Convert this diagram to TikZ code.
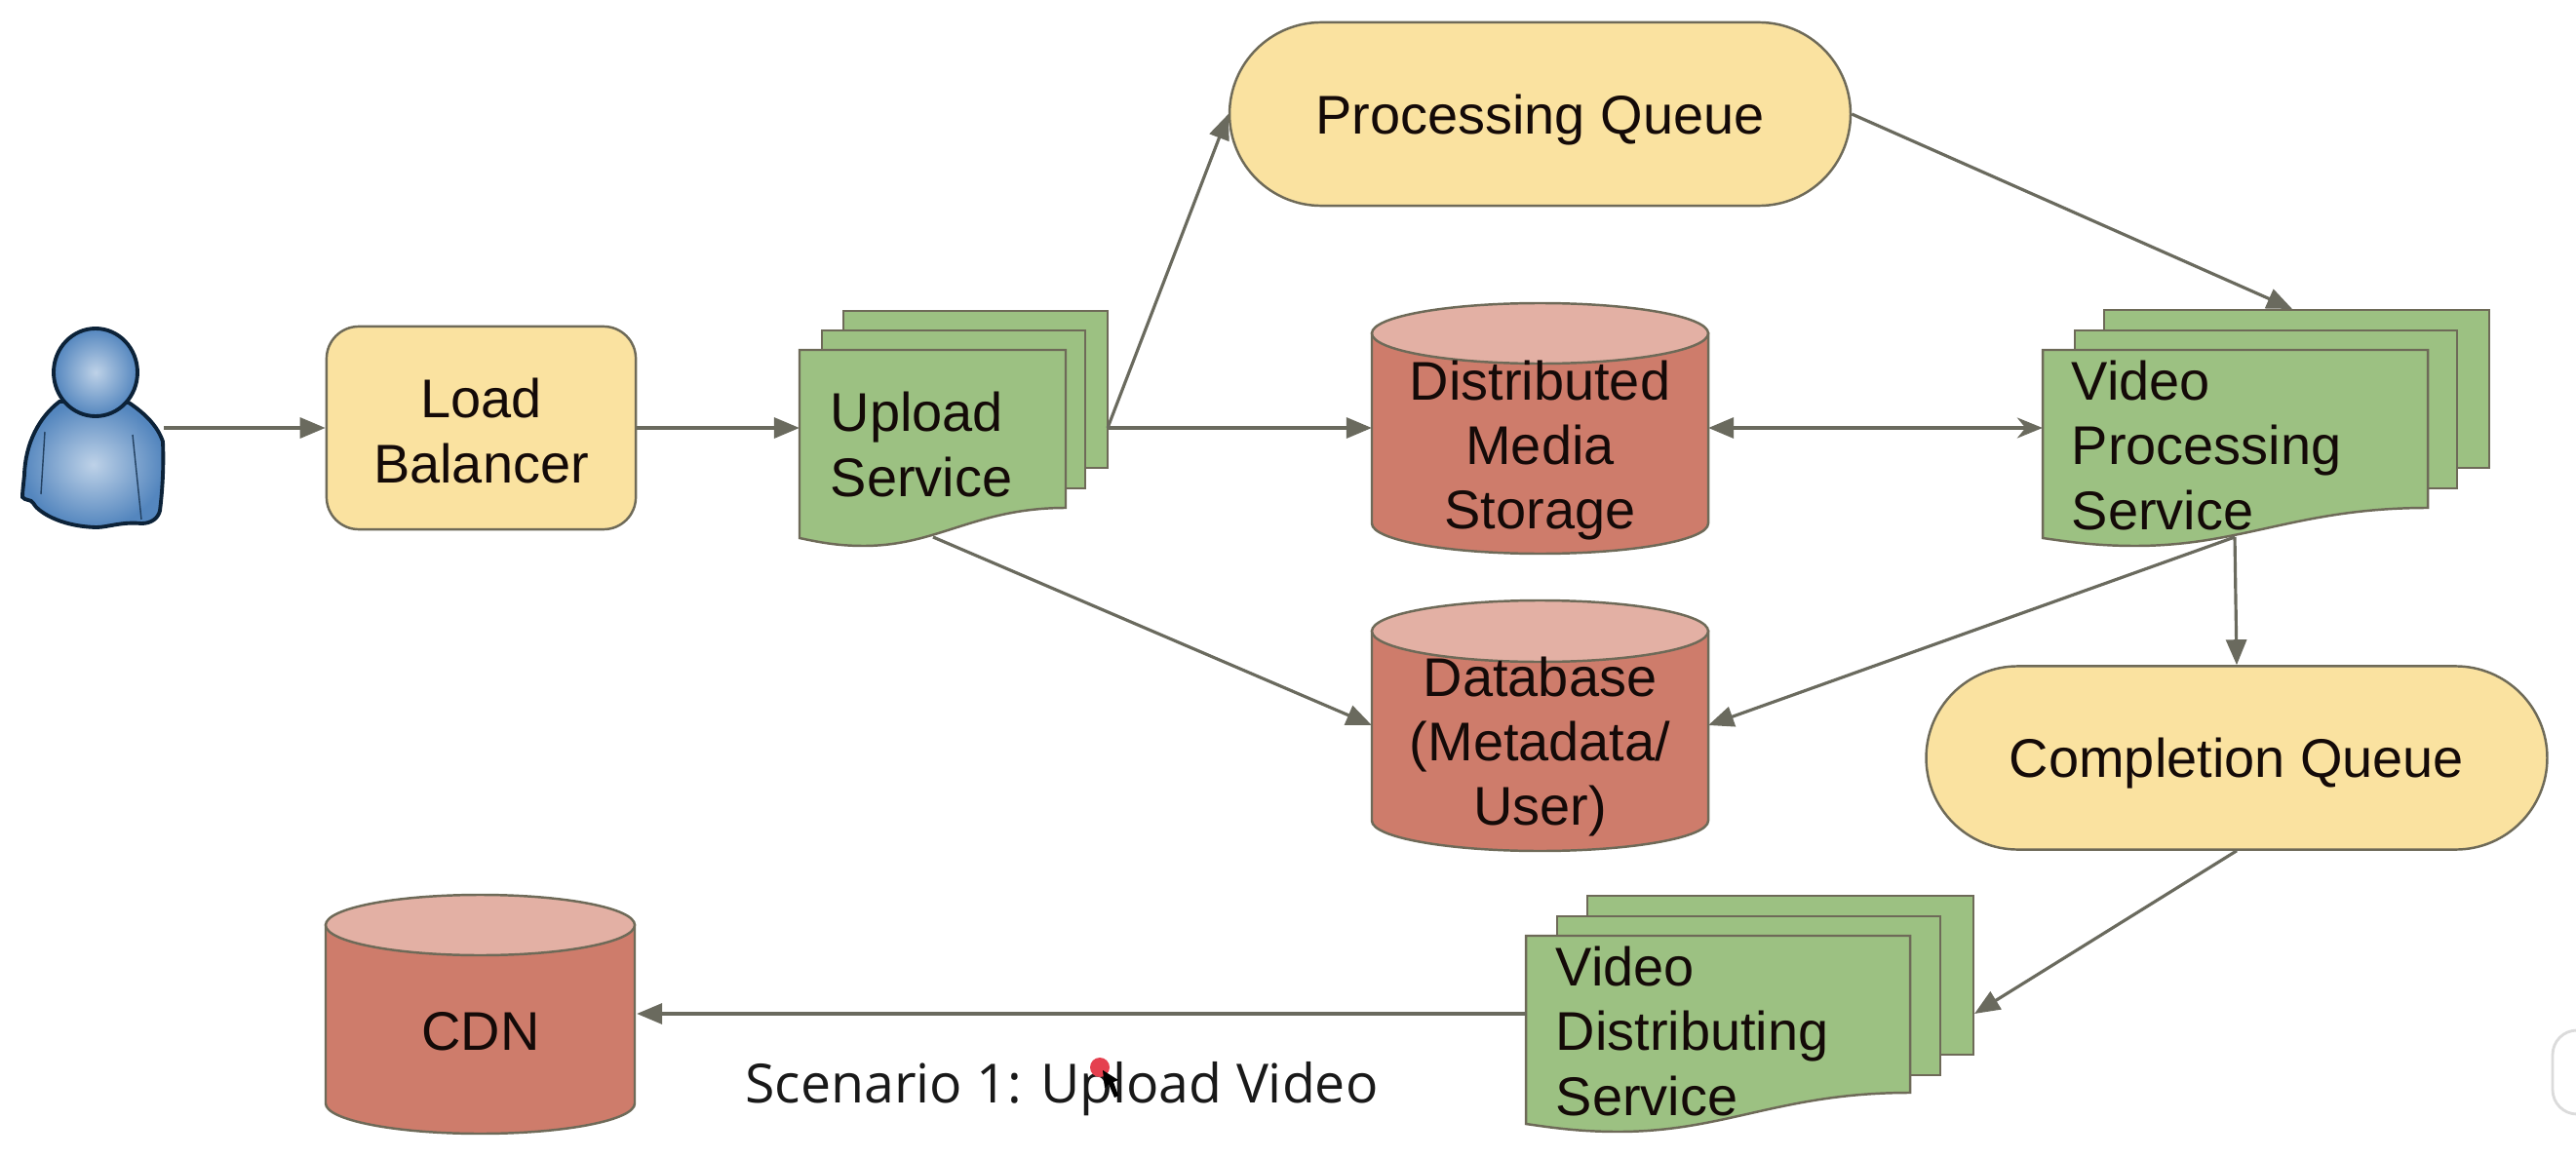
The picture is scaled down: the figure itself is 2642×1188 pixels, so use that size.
\documentclass[tikz,border=0pt]{standalone}
\usepackage{fontspec}
\setmainfont{Liberation Sans}
\newfontfamily\capfont{Open Sans}
\usetikzlibrary{arrows.meta,shapes.misc,calc}
\definecolor{yel}{HTML}{FAE2A0}
\definecolor{grn}{HTML}{9CC182}
\definecolor{rd}{HTML}{CE7C6B}
\definecolor{rdtop}{HTML}{E3B0A4}
\definecolor{edge}{HTML}{6E6A58}
\definecolor{arr}{HTML}{6A6A5E}
\definecolor{txt}{HTML}{140A08}
\definecolor{dotred}{HTML}{E5404F}
\definecolor{skinin}{RGB}{190,210,232}
\definecolor{skinout}{RGB}{84,134,190}
\definecolor{skinline}{HTML}{0C2238}
\tikzset{
  shapeline/.style={draw=edge,line width=0.7pt},
  lbl/.style={font=\fontsize{15.9}{18.8}\selectfont,text=txt,align=center,inner sep=0pt},
  lblleft/.style={font=\fontsize{15.9}{18.8}\selectfont,text=txt,align=left,inner sep=0pt,anchor=west},
  conn/.style={draw=arr,line width=0.9pt,-{Triangle[length=2.6mm,width=2.1mm]}},
  connboth/.style={draw=arr,line width=0.9pt,{Triangle[length=2.6mm,width=2.1mm]}-{Stealth[length=2.6mm,width=2.1mm]}},
  yelbox/.style={shapeline,fill=yel,rounded corners=3.3mm,minimum width=3.17cm,minimum height=2.08cm},
  queue/.style={shapeline,fill=yel,rounded rectangle,minimum height=1.88cm,minimum width=6.60cm},
  frame/.style={inner sep=0pt,outer sep=0pt,draw=none},
  person/.style={draw=skinline,line width=1.1pt,shading=radial,inner color=skinin,outer color=skinout},
}
% sheet: x1 x2 ytop yright yleft
\newcommand{\sheet}[5]{%
  \pgfmathsetmacro{\wid}{#2-#1}
  \path[shapeline,fill=grn] (#1,#3) -- (#2,#3) -- (#2,#4)
    .. controls ({#1+0.66*\wid},#4) and ({#1+0.52*\wid},{#5+8}) .. ({#1+0.24*\wid},{#5+8})
    .. controls ({#1+0.14*\wid},{#5+8}) and ({#1+0.07*\wid},{#5+4}) .. (#1,#5) -- cycle;}
\newcommand{\back}[4]{\path[shapeline,fill=grn] (#1,#3) rectangle (#2,#4);}
% can: x1 x2 top ellipsebottom bottom sidebottom
\newcommand{\can}[6]{%
  \pgfmathsetmacro{\cx}{(#1+#2)/2}
  \pgfmathsetmacro{\rx}{(#2-#1)/2}
  \pgfmathsetmacro{\ry}{(#4-#3)/2}
  \pgfmathsetmacro{\cy}{(#4+#3)/2}
  \path[shapeline,fill=rd] (#1,\cy) -- (#1,#6)
     .. controls (#1,{#6+0.55*(#5-#6)}) and ({\cx-0.55*\rx},#5) .. (\cx,#5)
     .. controls ({\cx+0.55*\rx},#5) and (#2,{#6+0.55*(#5-#6)}) .. (#2,#6) -- (#2,\cy) -- cycle;
  \path[shapeline,fill=rdtop] (\cx,\cy) ellipse [x radius=\rx,y radius=\ry];}
\begin{document}
\begin{tikzpicture}[x=0.01cm,y=-0.01cm]
\useasboundingbox (0,0) rectangle (2642,1188);
\fill[white] (0,0) rectangle (2642,1188);

% user
\path[person]
  (61,412) .. controls (40,428) and (26,455) .. (25,487)
  .. controls (24,497) and (23,505) .. (23,510)
  .. controls (26,514) and (32,512) .. (34,516)
  .. controls (38,524) and (60,540) .. (99,541)
  .. controls (110,541) and (125,535) .. (145,537)
  .. controls (155,537) and (162,532) .. (164,524)
  .. controls (167,500) and (168,475) .. (167,453)
  .. controls (162,438) and (150,425) .. (132,413) -- cycle;
\draw[skinline!70!skinout,line width=0.4pt] (46,443) -- (42,507) (136,446) -- (145,533);
\path[person] (98,382) ellipse [x radius=43,y radius=45];
\coordinate (user) at (168,439);

% load balancer
\node[yelbox] (lb) at (493.5,439) {};
\node[lbl] (lbtext) at (493.5,442) {Load\\Balancer};

% upload service
\back{865}{1136}{319}{480}
\back{843}{1113}{339}{501}
\sheet{820}{1093}{359}{521}{552}
\node[frame,minimum width=2.73cm,minimum height=1.62cm] (up) at (956.5,439) {};
\coordinate (upout) at (1136,439);
\coordinate (updown) at (957,551);
\node[lblleft] (uptext) at (851,456) {Upload\\Service};

% processing queue
\node[queue] (pq) at (1579.5,117) {};
\node[lbl] (pqtext) at (1579.5,123) {Processing Queue};

% media storage
\can{1407}{1752}{311}{373}{568}{537}
\node[frame,minimum width=3.45cm,minimum height=1.96cm] (ms) at (1579.5,439) {};
\node[lbl] (mstext) at (1579.5,462) {Distributed\\Media\\Storage};

% database
\can{1407}{1752}{616}{679}{873}{842}
\node[frame,minimum width=3.45cm,minimum height=1.96cm] (db) at (1579.5,744) {};
\node[lbl] (dbtext) at (1579.5,766) {Database\\(Metadata/\\User)};

% video processing
\back{2158}{2553}{318}{480}
\back{2128}{2520}{339}{501}
\sheet{2095}{2490}{359}{521}{552}
\node[frame,minimum width=3.95cm,minimum height=1.62cm] (vp) at (2292.5,439) {};
\coordinate (vpdown) at (2292,551);
\coordinate (vpin) at (2351,317);
\node[lblleft] (vptext) at (2124,457) {Video\\Processing\\Service};

% completion queue
\node[queue] (cq) at (2294,777.5) {};
\node[lbl] (cqtext) at (2294,783) {Completion Queue};

% video distributing
\back{1628}{2024}{919}{1082}
\back{1597}{1990}{940}{1103}
\sheet{1565}{1959}{960}{1121}{1153}
\node[frame,minimum width=3.94cm,minimum height=1.61cm] (vd) at (1762,1040) {};
\coordinate (vdin) at (2025,1040);
\node[lblleft] (vdtext) at (1595,1058) {Video\\Distributing\\Service};

% cdn
\can{334}{651}{918}{980}{1163}{1132}
\node[frame,minimum width=3.20cm,minimum height=1.9cm] (cdn) at (493,1040) {};
\node[lbl] (cdntext) at (493,1058) {CDN};

% connectors
\draw[conn] (user) -- (lb.west);
\draw[conn] (lb.east) -- (up.west);
\draw[conn] (upout) -- (pq.west);
\draw[conn] (upout) -- (ms.west);
\draw[conn] (updown) -- (db.west);
\draw[conn] (pq.east) -- (vpin);
\draw[connboth] (ms.east) -- (vp.west);
\draw[conn] (vpdown) -- (db.east);
\draw[conn] (vpdown) -- (cq.north);
\draw[conn] (cq.south) -- (vdin);
\draw[conn] (vd.west) -- (cdn.east);

% caption
\node[font=\capfont\fontsize{15.75}{18}\selectfont,text=black!90,anchor=base,inner sep=0pt] (cap) at (1089,1131) {Scenario 1: Upload Video};
\fill[dotred] (1128,1095) circle (10);
\fill[black] (1131,1098) -- (1133,1116) -- (1137,1112) -- (1143,1126) -- (1147,1124) -- (1142,1110) -- (1147,1108) -- cycle;

% window control at the right edge
\draw[black!14,line width=0.8pt,rounded corners=2.5mm] (2660,1057) -- (2618,1057) -- (2618,1143) -- (2660,1143);
\end{tikzpicture}
\end{document}
